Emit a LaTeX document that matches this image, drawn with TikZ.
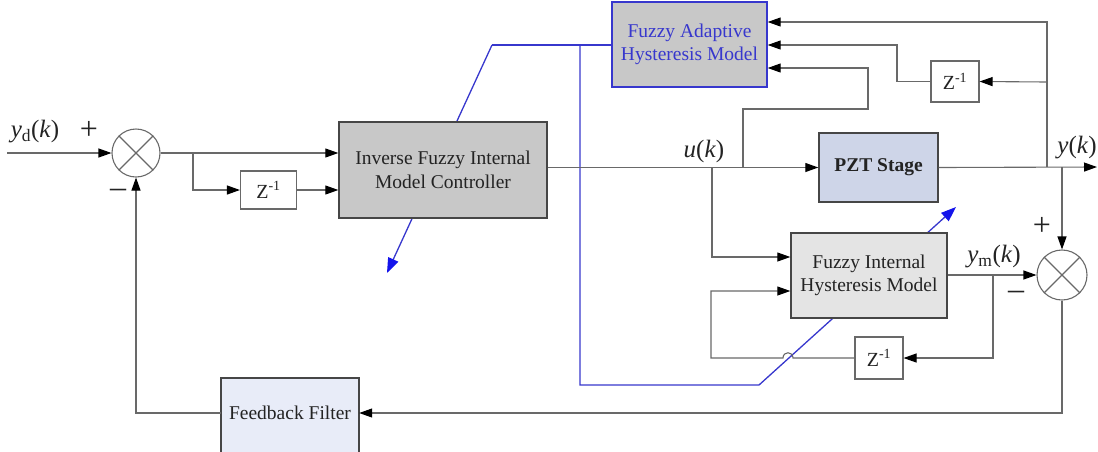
\documentclass[tikz,border=0pt]{standalone}
\usepackage{fontspec}
\setmainfont{Liberation Serif}
\usetikzlibrary{arrows.meta}
\definecolor{linegray}{RGB}{105,105,105}
\definecolor{boxborder}{RGB}{70,70,70}
\definecolor{ctrlfill}{RGB}{200,200,200}
\definecolor{fihmfill}{RGB}{228,228,228}
\definecolor{pztfill}{RGB}{206,213,232}
\definecolor{fffill}{RGB}{232,236,248}
\definecolor{bluel}{RGB}{55,55,205}
\definecolor{bluetip}{RGB}{20,20,235}
\definecolor{txt}{RGB}{35,35,35}
\tikzset{
  conn/.style={draw=linegray, line width=1.1pt, -{Triangle[length=13pt,width=9pt,fill=black,color=black]}},
  plain/.style={draw=linegray, line width=1.1pt},
  bline/.style={draw=bluel, line width=1.3pt},
  barr/.style={bline, -{Triangle[length=15pt,width=11pt,fill=bluetip,color=bluetip]}},
  blk/.style={draw=boxborder, line width=1.4pt, inner sep=0pt, align=center, text=txt,
              font=\fontsize{19.5}{23.5}\selectfont},
  zbox/.style={draw=linegray, line width=1.1pt, fill=white, inner sep=0pt, text=txt,
              font=\fontsize{20}{23}\selectfont},
  sumnode/.style={circle, draw=linegray, line width=1.1pt, fill=white, inner sep=0pt},
  lbl/.style={text=txt, inner sep=0pt, font=\fontsize{25}{28}\selectfont},
  sgn/.style={text=txt, inner sep=0pt, font=\fontsize{32}{34}\selectfont},
}
\begin{document}
\begin{tikzpicture}[x=1pt,y=-1pt]
\useasboundingbox (0,0) rectangle (1098,451);

% level coordinates
\coordinate (y22) at (0,22);
\coordinate (y45) at (0,45);
\coordinate (y68) at (0,68);
\coordinate (y257) at (0,257);
\coordinate (y291) at (0,291);

% blue adaptation lines (drawn first, behind boxes)
\coordinate (bA) at (492,45);
\coordinate (bB) at (387,273);
\coordinate (bC) at (580,45);
\coordinate (bD) at (580,385);
\coordinate (bE) at (759,385);
\coordinate (bF) at (956,207);
\draw[bline] (612,45) -- (bA);
\draw[barr] (bA) -- (bB);
\draw[barr] (bC) -- (bD) -- (bE) -- (bF);

% blocks
\node[blk, fill=ctrlfill, minimum width=208pt, minimum height=96pt] (ctrl) at (443,170)
  {Inverse Fuzzy Internal\\Model Controller};
\node[blk, fill=ctrlfill, draw=bluel, text=bluel, minimum width=155pt, minimum height=85pt] (fahm) at (689.5,44.5)
  {Fuzzy Adaptive\\Hysteresis Model};
\node[blk, fill=pztfill, minimum width=119pt, minimum height=69pt, font=\fontsize{19.5}{23}\selectfont\bfseries] (pzt) at (878.5,167.5)
  {PZT Stage};
\node[blk, fill=fihmfill, minimum width=156pt, minimum height=85pt] (fihm) at (869,275.5)
  {Fuzzy Internal\\Hysteresis Model};
\path[draw=boxborder, line width=1.4pt, fill=fffill] (221,378) rectangle (359,462);
\node[text=txt, inner sep=0pt, minimum width=138pt, font=\fontsize{19.5}{23}\selectfont] (ff) at (290,413) {Feedback Filter};

\node[zbox, minimum width=56pt, minimum height=38pt] (z1) at (268.5,190) {Z\textsuperscript{-1}};
\node[zbox, minimum width=48pt, minimum height=41pt] (z2) at (955,81.5) {Z\textsuperscript{-1}};
\node[zbox, minimum width=48pt, minimum height=42pt] (z3) at (879,358) {Z\textsuperscript{-1}};

% summing junctions
\node[sumnode, minimum size=48pt] (s1) at (136,153) {};
\draw[plain] (s1.45) -- (s1.225) (s1.135) -- (s1.315);
\node[sumnode, minimum size=50pt] (s2) at (1062,275) {};
\draw[plain] (s2.45) -- (s2.225) (s2.135) -- (s2.315);

% connectors
\coordinate (in) at (7,153);
\draw[conn] (in) -- (s1.west);
\draw[conn] (s1.east) -- (ctrl.west |- s1);
\coordinate (b1) at (193,153);
\draw[conn] (b1) |- (z1.west);
\draw[conn] (z1.east) -- (ctrl.west |- z1);

\draw[conn] (ctrl.east |- pzt) -- (pzt.west);
\coordinate (bu) at (712,167);
\draw[conn] (bu) |- (fihm.west |- y257);
\coordinate (bv) at (743,167);
\coordinate (tr1) at (868,109);
\draw[conn] (bv) |- (tr1) |- (fahm.east |- y68);

\coordinate (out) at (1097,167);
\draw[conn] (pzt.east) -- (out);
\coordinate (by) at (1047,167);
\draw[conn] (by) |- (fahm.east |- y22);
\coordinate (bz) at (1047,82);
\draw[conn] (bz) -- (z2.east);
\coordinate (tr2) at (897,45);
\draw[conn] (z2.west) -| (tr2) -- (fahm.east |- tr2);
\coordinate (bs2) at (1062,167);
\draw[conn] (bs2) -- (s2.north);

\draw[conn] (fihm.east |- s2) -- (s2.west);
\coordinate (bm) at (993,275);
\draw[conn] (bm) |- (z3.east);
\coordinate (j1) at (793,358);
\coordinate (j2) at (783,358);
\coordinate (tr3) at (711,358);
\draw[conn] (z3.west) -- (j1) .. controls (793,351) and (783,351) .. (j2) -- (tr3) |- (fihm.west |- y291);

\draw[conn] (s2.south) |- (ff.east);
\draw[conn] (ff.west) -| (s1.south);

% labels
\node[lbl] (lyd) at (35,132) {\textit{y}\textsubscript{d}(\textit{k})};
\node[sgn] (p1) at (89,130) {+};
\node[sgn] (m1) at (118,193) {\textendash};
\node[lbl] (lu) at (704,151) {\textit{u}(\textit{k})};
\node[lbl] (ly) at (1077,148) {\textit{y}(\textit{k})};
\node[lbl] (lym) at (994,257) {\textit{y}\textsubscript{m}(\textit{k})};
\node[sgn] (p2) at (1042,226) {+};
\node[sgn] (m2) at (1016,295) {\textendash};
\end{tikzpicture}
\end{document}
